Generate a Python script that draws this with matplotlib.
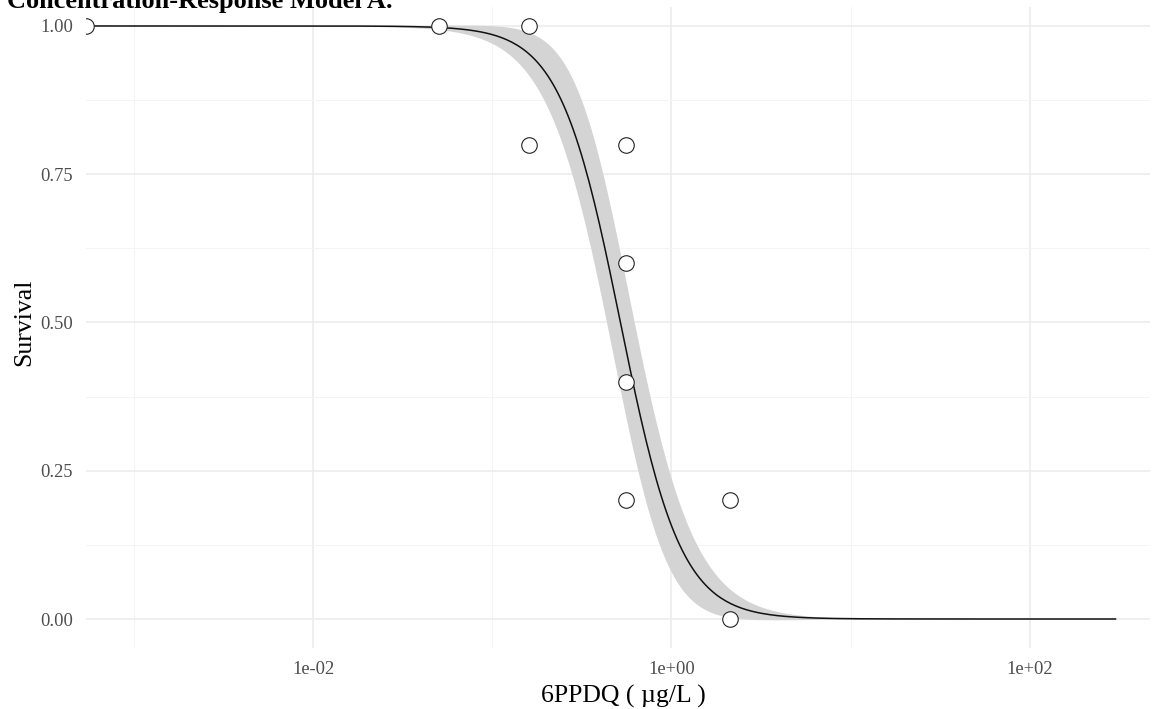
import numpy as np
import matplotlib
matplotlib.use("Agg")
import matplotlib.pyplot as plt

# Observed survival per exposure concentration (µg/L)
conc = [0.00054, 0.0506, 0.161, 0.161, 0.561, 0.561, 0.561, 0.561, 2.11, 2.11]
survival = [1.0, 1.0, 1.0, 0.8, 0.8, 0.6, 0.4, 0.2, 0.2, 0.0]

# Fitted two-parameter log-logistic model and its standard errors
slope_b = 2.56
ec50 = 0.519
se_log_ec50 = 0.092
se_slope = 0.29
curve_min, curve_max = 0.00054, 300.0

x_ticks = [1e-2, 1e0, 1e2]
x_tick_labels = ["1e-02", "1e+00", "1e+02"]
x_minor = [1e-3, 1e-1, 1e1]
y_ticks = [0.0, 0.25, 0.5, 0.75, 1.0]
y_tick_labels = ["0.00", "0.25", "0.50", "0.75", "1.00"]
y_minor = [0.125, 0.375, 0.625, 0.875]

plt.rcParams["font.family"] = ["Liberation Serif", "DejaVu Serif"]

W, H, DPI = 1154, 709, 100
fig = plt.figure(figsize=(W / DPI, H / DPI), dpi=DPI)
px_left, px_right, px_top, px_bottom = 86, 1150, 7, 648
ax = fig.add_axes([px_left / W, (H - px_bottom) / H,
                   (px_right - px_left) / W, (px_bottom - px_top) / H])

# model prediction with delta-method 95% band
xs = np.logspace(np.log10(curve_min), np.log10(curve_max), 400)
L = np.log(xs / ec50)
pred = 1.0 / (1.0 + np.exp(slope_b * L))
g = pred * (1 - pred)
se = g * np.sqrt((slope_b * se_log_ec50) ** 2 + (L * se_slope) ** 2)
lower, upper = pred - 1.96 * se, pred + 1.96 * se

ax.fill_between(xs, lower, upper, color="#d4d4d4", linewidth=0, zorder=2)
ax.plot(xs, pred, color="#111111", lw=1.1, zorder=3)
ax.scatter(conc, survival, s=125, facecolor="white", edgecolor="#222222",
           linewidth=0.8, zorder=4)

ax.set_xscale("log")
ax.set_xlim(10 ** -3.2664, 10 ** 2.6695)
ax.set_ylim(-0.0489, 1.032)

ax.set_xticks(x_ticks)
ax.set_xticklabels(x_tick_labels)
ax.set_xticks(x_minor, minor=True)
ax.set_yticks(y_ticks)
ax.set_yticklabels(y_tick_labels)
ax.set_yticks(y_minor, minor=True)
ax.tick_params(which="both", length=0)
ax.tick_params(axis="both", which="major", labelsize=13.3, labelcolor="#4d4d4d")
ax.tick_params(axis="y", pad=9.5)
ax.tick_params(axis="x", pad=9.0)
ax.tick_params(which="minor", labelbottom=False, labelleft=False)

ax.grid(which="major", color="#ebebeb", lw=1.1)
ax.grid(which="minor", color="#f4f4f4", lw=0.7)
ax.set_axisbelow(True)
for sp in ax.spines.values():
    sp.set_visible(False)

ax.set_xlabel("6PPDQ ( µg/L )", fontsize=18.5, color="black")
ax.xaxis.set_label_coords(0.505, -0.057)
ax.xaxis.label.set_va("top")
ax.set_ylabel("Survival", fontsize=18.5, color="black")
ax.yaxis.set_label_coords(-0.0583, 0.5086)
ax.yaxis.label.set_va("center")

fig.text(7 / W, 1 - 8 / H, "Concentration-Response Model A.", fontsize=19,
         fontweight="bold", ha="left", va="baseline")

fig.savefig("out.png", dpi=DPI)
